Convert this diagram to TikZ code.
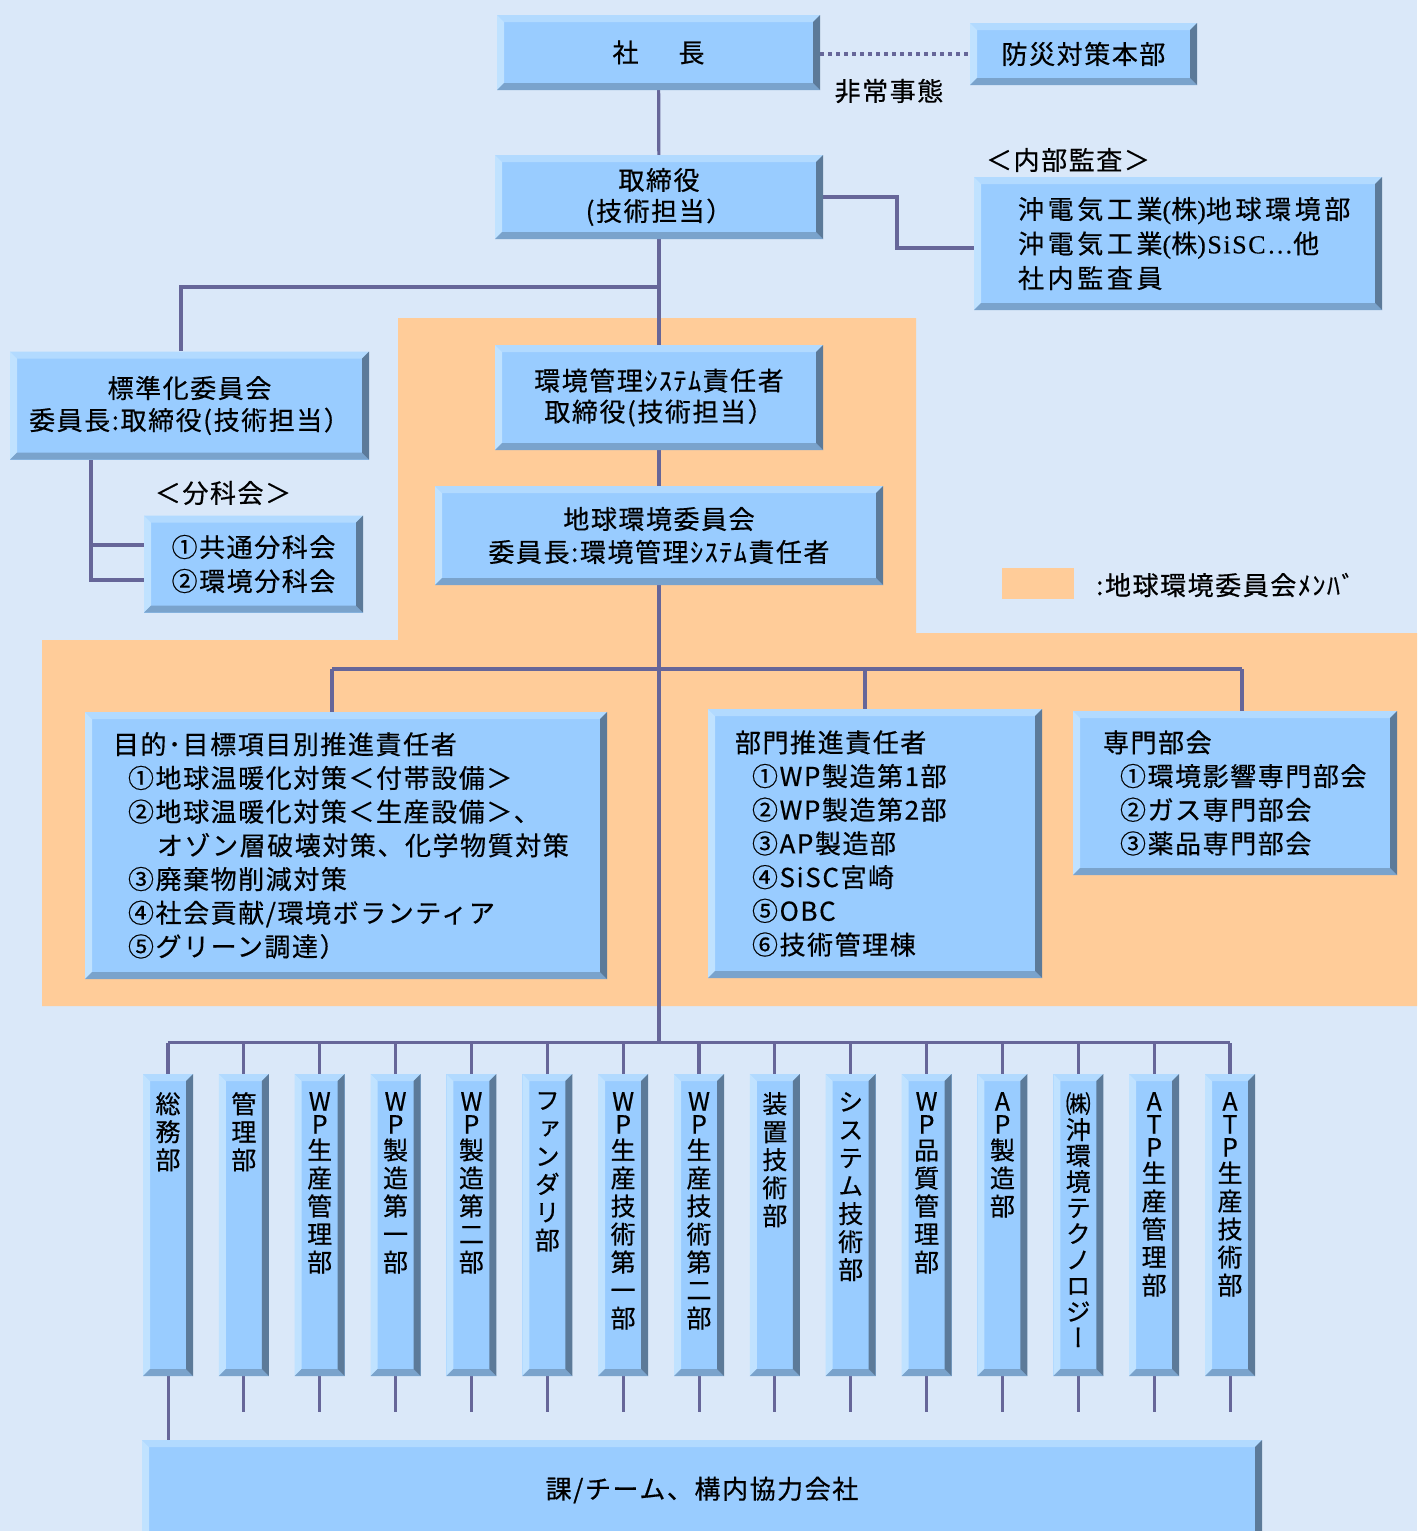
\documentclass[tikz,border=0pt]{standalone}
\usepackage{fontspec}
\newfontfamily\jp[LetterSpace=6,FakeBold=0.5]{Noto Sans CJK JP}
\newfontfamily\jpw[LetterSpace=14,FakeBold=0.5]{Noto Sans CJK JP}
\newfontfamily\jpv[RawFeature={+vert},FakeBold=0.5]{Noto Sans CJK JP}
\newfontfamily\tms[LetterSpace=6,FakeBold=0.3]{Liberation Serif}
\definecolor{bgc}{RGB}{218,232,249}
\definecolor{boxc}{RGB}{153,204,255}
\definecolor{bevT}{RGB}{178,218,255}
\definecolor{bevL}{RGB}{192,226,255}
\definecolor{bevB}{RGB}{122,163,204}
\definecolor{bevR}{RGB}{92,122,153}
\definecolor{linec}{RGB}{102,102,153}
\definecolor{orng}{RGB}{255,204,153}
\pgfdeclarelayer{bg}
\pgfsetlayers{bg,main}
\tikzset{
  bbox/.style={rectangle, inner sep=0pt, fill=boxc, text=black, align=center,
    path picture={
      \fill[bevT] (path picture bounding box.north west) -- (path picture bounding box.north east)
        -- ([shift={(-7pt,-7pt)}]path picture bounding box.north east) -- ([shift={(7pt,-7pt)}]path picture bounding box.north west) -- cycle;
      \fill[bevL] (path picture bounding box.north west) -- (path picture bounding box.south west)
        -- ([shift={(7pt,7pt)}]path picture bounding box.south west) -- ([shift={(7pt,-7pt)}]path picture bounding box.north west) -- cycle;
      \fill[bevB] (path picture bounding box.south west) -- (path picture bounding box.south east)
        -- ([shift={(-7pt,7pt)}]path picture bounding box.south east) -- ([shift={(7pt,7pt)}]path picture bounding box.south west) -- cycle;
      \fill[bevR] (path picture bounding box.north east) -- (path picture bounding box.south east)
        -- ([shift={(-7pt,7pt)}]path picture bounding box.south east) -- ([shift={(-7pt,-7pt)}]path picture bounding box.north east) -- cycle;
    }},
  jt/.style={font=\jp\fontsize{26}{31}\selectfont, text=black, inner sep=0pt},
  vt/.style={font=\jpv\fontsize{25}{28}\selectfont, text=black, inner sep=0pt, align=center},
  ln/.style={draw=linec, line width=3.2pt},
}
\begin{document}
\begin{tikzpicture}[x=1pt,y=-1pt]
\useasboundingbox (0,0) rectangle (1417,1531);

% ---- boxes ----
\node[bbox, jt, minimum width=323pt, minimum height=75pt] (pres) at (658.5,52.5) {社\hspace{40pt}長};
\node[bbox, jt, minimum width=227pt, minimum height=62pt] (bousai) at (1083.5,54) {防災対策本部};
\node[bbox, jt, minimum width=328pt, minimum height=84pt] (tori) at (659,197) {取締役\\(技術担当）};
\node[bbox, font=\jpw\fontsize{26}{34.5}\selectfont, minimum width=408pt, minimum height=133pt,
      inner xsep=44pt, text width=320pt, align=left] (naibu) at (1178,243.5)
  {沖電気工業{\tms(}株{\tms)}地球環境部\\沖電気工業{\tms(}株{\tms)SiSC…}他\\社内監査員};
\node[bbox, font=\jp\fontsize{26}{32}\selectfont, minimum width=359pt, minimum height=108pt] (hyoujun) at (189.5,405.5)
  {標準化委員会\\委員長:取締役(技術担当）};
\node[bbox, font=\jp\fontsize{26}{34}\selectfont, minimum width=219pt, minimum height=97pt] (bunka) at (253.5,564)
  {①共通分科会\\②環境分科会};
\node[bbox, font=\jp\fontsize{26}{31}\selectfont, minimum width=328pt, minimum height=105pt] (kankyo) at (659,397.5)
  {環境管理ｼｽﾃﾑ責任者\\取締役(技術担当）};
\node[bbox, font=\jp\fontsize{26}{33}\selectfont, minimum width=448pt, minimum height=99pt] (chikyu) at (659,535.5)
  {地球環境委員会\\委員長:環境管理ｼｽﾃﾑ責任者};
\node[bbox, font=\jp\fontsize{26}{33.7}\selectfont, minimum width=522pt, minimum height=267pt,
      inner xsep=28pt, text width=466pt, align=left] (mokuteki) at (346,845.5)
  {目的･目標項目別推進責任者\\
   \hspace*{15pt}①地球温暖化対策＜付帯設備＞\\
   \hspace*{15pt}②地球温暖化対策＜生産設備＞、\\
   \hspace*{44pt}オゾン層破壊対策、化学物質対策\\
   \hspace*{15pt}③廃棄物削減対策\\
   \hspace*{15pt}④社会貢献/環境ボランティア\\
   \hspace*{15pt}⑤グリーン調達）};
\node[bbox, font=\jp\fontsize{26}{33.7}\selectfont, minimum width=334pt, minimum height=269pt,
      inner xsep=27pt, text width=280pt, align=left] (bumon) at (875,843.5)
  {部門推進責任者\\
   \hspace*{17pt}①WP製造第1部\\
   \hspace*{17pt}②WP製造第2部\\
   \hspace*{17pt}③AP製造部\\
   \hspace*{17pt}④SiSC宮崎\\
   \hspace*{17pt}⑤OBC\\
   \hspace*{17pt}⑥技術管理棟};
\node[bbox, font=\jp\fontsize{26}{33.7}\selectfont, minimum width=324pt, minimum height=164pt,
      inner xsep=30pt, text width=264pt, align=left] (senmon) at (1235,793)
  {専門部会\\
   \hspace*{17pt}①環境影響専門部会\\
   \hspace*{17pt}②ガス専門部会\\
   \hspace*{17pt}③薬品専門部会};
\node[bbox, jt, minimum width=1120pt, minimum height=100pt] (bottom) at (702,1490) {課/チーム、構内協力会社};

% vertical department boxes
\foreach \t [count=\i from 0] in {
  {総\\務\\部},
  {管\\理\\部},
  {W\\[-5pt]P\\[-2pt]生\\産\\管\\理\\部},
  {W\\[-5pt]P\\[-2pt]製\\造\\第\\一\\部},
  {W\\[-5pt]P\\[-2pt]製\\造\\第\\二\\部},
  {フ\\ァ\\ン\\ダ\\リ\\部},
  {W\\[-5pt]P\\[-2pt]生\\産\\技\\術\\第\\一\\部},
  {W\\[-5pt]P\\[-2pt]生\\産\\技\\術\\第\\二\\部},
  {装\\置\\技\\術\\部},
  {シ\\ス\\テ\\ム\\技\\術\\部},
  {W\\[-5pt]P\\[-2pt]品\\質\\管\\理\\部},
  {A\\[-5pt]P\\[-2pt]製\\造\\部},
  {㈱\\[-2pt]沖\\[-2pt]環\\[-2pt]境\\[-2pt]テ\\[-2pt]ク\\[-2pt]ノ\\[-2pt]ロ\\[-2pt]ジ\\[-2pt]ー},
  {A\\[-5pt]T\\[-5pt]P\\[-2pt]生\\産\\管\\理\\部},
  {A\\[-5pt]T\\[-5pt]P\\[-2pt]生\\産\\技\\術\\部}} {
  \node[bbox, minimum width=50pt, minimum height=302pt] (v\i) at ({168+75.857*\i},1225) {};
  \node[vt, anchor=north] (vt\i) at ({168+75.857*\i},1092) {\t};
}

% labels
\node[jt] (hijo) at (889,91) {非常事態};
\node[jt] (naibulbl) at (1068,160) {＜内部監査＞};
\node[jt] (bunkalbl) at (223,493) {＜分科会＞};
\node[fill=orng, minimum width=72pt, minimum height=31pt, inner sep=0pt] (leg) at (1038,583.5) {};
\node[jt, anchor=west] (legt) at (1096,585) {:地球環境委員会ﾒﾝﾊﾞ};

% ---- background, member area, connectors ----
\begin{pgfonlayer}{bg}
\fill[bgc] (0,0) rectangle (1417,1531);
\fill[orng] (398,318) -- (916,318) -- (916,633) -- (1417,633) -- (1417,1006)
  -- (42,1006) -- (42,640) -- (398,640) -- cycle;

\draw[ln] (pres) -- (tori);
\draw[draw=linec, line width=4pt, dash pattern=on 4pt off 4pt] (pres.east |- bousai.west) -- (bousai.west);
\draw[ln] (tori) -- (kankyo);
\draw[ln] (kankyo) -- (chikyu);
\draw[ln] (tori.south |- 0,287) -| ([xshift=-8.5pt]hyoujun.north);
\coordinate (nj) at (897,248);
\draw[ln] (tori.east) -| (nj) -- (nj -| naibu.west);
\coordinate (hs) at ([xshift=-98.5pt]hyoujun.south);
\coordinate (b1) at ([yshift=19pt]bunka.west);
\coordinate (b2) at ([yshift=-16pt]bunka.west);
\draw[ln] (hs) |- (b2);
\draw[ln] (hs |- b1) -- (b1);

\coordinate (barL) at (332,669);
\coordinate (barM) at (865,669);
\coordinate (barR) at (1242,669);
\draw[draw=linec, line width=4.5pt] (barL) -- (barR);
\draw[ln] (barL) -- (barL |- mokuteki.north);
\draw[ln] (barM) -- (barM |- bumon.north);
\draw[ln] (barR) -- (barR |- senmon.north);

\coordinate (busL) at ([yshift=31pt]v0.north);
\coordinate (busR) at ([yshift=31pt]v14.north);
\draw[ln] (chikyu) -- (chikyu.south |- busL);
\draw[ln] (busL) -- (busR);
\foreach \i in {0,...,14} {
  \draw[ln] (v\i.north) -- ([yshift=31pt]v\i.north);
}
\foreach \i in {1,...,14} {
  \draw[ln, line width=3pt] (v\i.south) -- ([yshift=-36pt]v\i.south);
}
\draw[ln, line width=3pt] (v0.south) -- (v0.south |- bottom.north);
\end{pgfonlayer}
\end{tikzpicture}
\end{document}
